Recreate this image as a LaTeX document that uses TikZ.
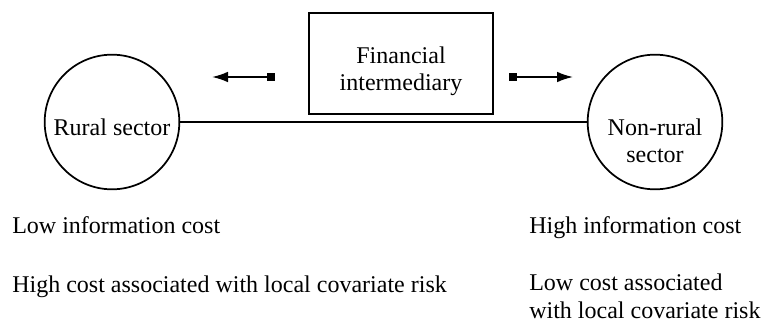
\documentclass[tikz,border=0pt]{standalone}
\usepackage{fontspec}
\setmainfont{Liberation Serif}
\usetikzlibrary{arrows.meta}
\tikzset{
  sector/.style={draw, circle, line width=1.3pt, minimum size=101pt, inner sep=0pt, align=center},
  interm/.style={draw, rectangle, line width=1.3pt, minimum width=138pt, minimum height=75.5pt, inner sep=0pt},
  flow/.style={line width=1.3pt, {Square[length=6pt,width=6pt]}-{Latex[length=12pt,width=8pt]}},
  note/.style={anchor=base west, inner sep=0pt}
}
\begin{document}
\begin{tikzpicture}[x=0.75pt,y=0.75pt,yscale=-1,xscale=1, font=\fontsize{18}{21}\selectfont]
\path[use as bounding box] (0,0) rectangle (762,324);

%Shape: Circle [id:rural]
\node[sector] (rural) at (112,122) {};
\node[inner sep=0pt] (ruraltext) at (112,127) {Rural sector};
%Shape: Circle [id:nonrural]
\node[sector] (nonrural) at (655,122) {};
\node[align=center, inner sep=0pt] (nonruraltext) at (655,141) {Non-rural\\[-1pt]sector};
%Shape: Rectangle [id:fin]
\node[interm] (fin) at (401,63.5) {};
\node[align=center, inner sep=0pt] (fintext) at (401,71) {Financial\\[-1pt]intermediary};

%Straight Lines [id:link]
\draw[line width=1.3pt] (rural) -- (nonrural);

%Straight Lines [id:flows]
\coordinate (lfrom) at (275,77);
\coordinate (lto) at (212,77);
\coordinate (rfrom) at (509,77);
\coordinate (rto) at (573,77);
\draw[flow] (lfrom) -- (lto);
\draw[flow] (rfrom) -- (rto);

%Text
\node[note] (lowinfo) at (12,233) {Low information cost};
\node[note] (highcov) at (12,292) {High cost associated with local covariate risk};
\node[note] (highinfo) at (529,233) {High information cost};
\node[note] (lowcov) at (529,290) {Low cost associated};
\node[note] (lowcovb) at (529,318) {with local covariate risk};

\end{tikzpicture}
\end{document}
